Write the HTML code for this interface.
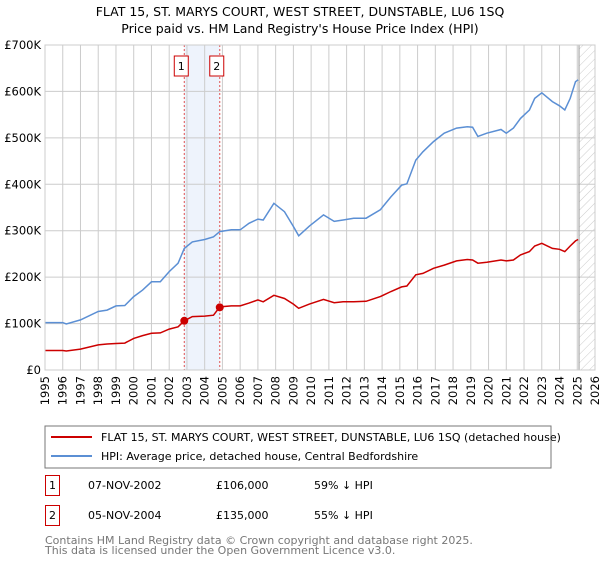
<!DOCTYPE html>
<html><head><meta charset="utf-8"><style>
body{margin:0;background:#fff;font-family:"Liberation Sans","DejaVu Sans",sans-serif;}
svg text{font-family:"DejaVu Sans","Liberation Sans",sans-serif;}
</style></head><body>
<svg id="c" width="600" height="560" viewBox="0 0 600 560">
<text x="300" y="16" text-anchor="middle" font-size="12.5" fill="#000">FLAT 15, ST. MARYS COURT, WEST STREET, DUNSTABLE, LU6 1SQ</text>
<text x="300" y="33" text-anchor="middle" font-size="12.5" fill="#000">Price paid vs. HM Land Registry's House Price Index (HPI)</text>
<g id="grid"></g>
<g id="marks"></g>
<rect x="45" y="426" width="506" height="42" fill="#fff" stroke="#777"/>
<line x1="51" y1="437" x2="92" y2="437" stroke="#cc0000" stroke-width="2"/>
<text x="101" y="441" font-size="11">FLAT 15, ST. MARYS COURT, WEST STREET, DUNSTABLE, LU6 1SQ (detached house)</text>
<line x1="51" y1="456" x2="92" y2="456" stroke="#5b8fd4" stroke-width="2"/>
<text x="101" y="460" font-size="11">HPI: Average price, detached house, Central Bedfordshire</text>
<rect x="45.5" y="475.5" width="14" height="20" fill="#fff" stroke="#cc0000"/>
<text x="52.5" y="489" font-size="11" text-anchor="middle">1</text>
<text x="88" y="489" font-size="11">07-NOV-2002</text>
<text x="216" y="489" font-size="11">£106,000</text>
<text x="314" y="489" font-size="11">59% ↓ HPI</text>
<rect x="45.5" y="505.5" width="14" height="20" fill="#fff" stroke="#cc0000"/>
<text x="52.5" y="519" font-size="11" text-anchor="middle">2</text>
<text x="88" y="519" font-size="11">05-NOV-2004</text>
<text x="216" y="519" font-size="11">£135,000</text>
<text x="314" y="519" font-size="11">55% ↓ HPI</text>
<text x="45" y="544" font-size="11" fill="#777">Contains HM Land Registry data © Crown copyright and database right 2025.</text>
<text x="45" y="554" font-size="11" fill="#777">This data is licensed under the Open Government Licence v3.0.</text>
</svg>
<script>
const yTicks=[0,100,200,300,400,500,600,700];
const yTickLabels=["£0","£100K","£200K","£300K","£400K","£500K","£600K","£700K"];
const years=[1995,1996,1997,1998,1999,2000,2001,2002,2003,2004,2005,2006,2007,2008,2009,2010,2011,2012,2013,2014,2015,2016,2017,2018,2019,2020,2021,2022,2023,2024,2025,2026];
const hpiT=[1995,1996,1996.2,1997,1998,1998.5,1999,1999.5,2000,2000.5,2001,2001.5,2002,2002.5,2002.85,2003.3,2004,2004.5,2004.85,2005.5,2006,2006.5,2007,2007.3,2007.9,2008.5,2009,2009.3,2009.9,2010.7,2011.3,2011.8,2012.4,2013.1,2013.9,2014.5,2015.1,2015.4,2015.9,2016.3,2016.9,2017.5,2018.2,2018.8,2019.1,2019.4,2019.9,2020.7,2021.0,2021.4,2021.8,2022.3,2022.6,2023.0,2023.6,2024.0,2024.3,2024.6,2024.9,2025.05];
const hpiV=[102,102,99,108,126,129,138,139,158,172,190,190,212,230,262,276,281,287,298,302,302,316,325,323,359,341,309,289,310,334,320,323,327,327,345,373,398,401,452,470,492,510,521,524,523,503,510,518,510,521,542,560,585,597,578,569,560,585,621,625];
const priceV=[42,42,41,45,54,56,57,58,68,74,79,80,88,93,106,115,116,118,136,138,138,144,151,147,161,154,142,133,142,152,145,147,147,148,158,169,179,181,205,208,219,226,235,238,237,230,232,237,235,237,248,255,267,273,262,260,255,267,278,281];
const sales=[{n:"1",t:2002.85,v:106},{n:"2",t:2004.85,v:135}];
const X=t=>45+(t-1995)*17.742, Y=v=>370-v*325/700;
const NS="http://www.w3.org/2000/svg";
const grid=document.getElementById('grid'), marks=document.getElementById('marks');
function mk(tag,attrs,parent){const e=document.createElementNS(NS,tag);for(const k in attrs)e.setAttribute(k,attrs[k]);parent.appendChild(e);return e;}
let r=mk('rect',{x:X(sales[0].t),y:45,width:X(sales[1].t)-X(sales[0].t),height:325,fill:'#eef3fc'},grid);


const defs=mk('defs',{},grid);
const pat=mk('pattern',{id:'h',width:6,height:6,patternUnits:'userSpaceOnUse',patternTransform:'rotate(45)'},defs);
mk('line',{x1:0,y1:0,x2:0,y2:6,stroke:'#ccc','stroke-width':1},pat);
yTicks.forEach((v,i)=>{
 let l=mk('line',{x1:45,x2:595,y1:Y(v),y2:Y(v),stroke:'#ccc'},grid);
 
 
 let t=mk('text',{x:41,y:Y(v)+4,'text-anchor':'end','font-size':11.5},grid);t.textContent=yTickLabels[i];
 
 
});
years.forEach(yr=>{
 let l=mk('line',{x1:X(yr),x2:X(yr),y1:45,y2:370,stroke:'#ccc'},grid);
 
 
 let t=mk('text',{x:0,y:0,'text-anchor':'end','font-size':11.5,transform:`translate(${X(yr)+4},376) rotate(-90)`},grid);t.textContent=yr;
 
 
});
let hz=mk('rect',{x:X(2025.1),y:45,width:595-X(2025.1),height:325,fill:'url(#h)'},grid);


let vl=mk('line',{x1:X(2025.1),x2:X(2025.1),y1:45,y2:370,stroke:'#999'},grid);


sales.forEach(s=>{
 let l=mk('line',{x1:X(s.t),x2:X(s.t),y1:45,y2:370,stroke:'#e05050','stroke-dasharray':'2,2'},marks);
 
 
 let b=mk('rect',{x:X(s.t)-10,y:56,width:14,height:20,fill:'#fff',stroke:'#cc0000'},marks);
 
 
 let t=mk('text',{x:X(s.t)-3,y:70,'text-anchor':'middle','font-size':11},marks);t.textContent=s.n;
 
 
});
const pts=vals=>hpiT.map((t,i)=>X(t).toFixed(1)+','+Y(vals[i]).toFixed(1)).join(' ');
let hp=mk('polyline',{points:pts(hpiV),fill:'none',stroke:'#5b8fd4','stroke-width':1.5},marks);


let pp=mk('polyline',{points:pts(priceV),fill:'none',stroke:'#cc0000','stroke-width':1.5},marks);


sales.forEach(s=>{
 let c=mk('circle',{cx:X(s.t),cy:Y(s.v),r:4,fill:'#cc0000'},marks);
 
 
});
let ax=mk('rect',{x:45,y:45,width:550,height:325,fill:'none',stroke:'#ccc'},marks);


</script>
</body></html>
